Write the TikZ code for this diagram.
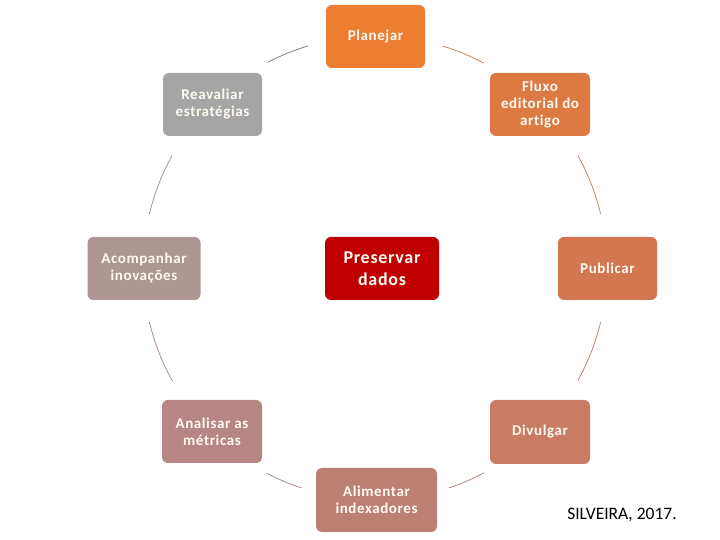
\documentclass[tikz,border=0pt]{standalone}
\usepackage{fontspec}
\setmainfont{Carlito}[Ligatures=NoCommon]
\newfontfamily\boxfont{Carlito}[Ligatures=NoCommon, LetterSpace=4]
\definecolor{cPlan}{HTML}{ED7D31}
\definecolor{cFlux}{HTML}{DD7A44}
\definecolor{cPubl}{HTML}{D47650}
\definecolor{cDivu}{HTML}{C87C65}
\definecolor{cAlim}{HTML}{BE7F73}
\definecolor{cAnal}{HTML}{B68682}
\definecolor{cAcom}{HTML}{AD9694}
\definecolor{cReav}{HTML}{A5A5A5}
\definecolor{cPres}{HTML}{C00000}
\definecolor{cText}{HTML}{FFFAF2}
\begin{document}
\begin{tikzpicture}[x=1pt,y=1pt,
  box/.style={rounded corners=6pt, inner sep=0pt, align=center, text=cText,
    font=\boxfont\fontsize{15}{17}\selectfont\bfseries, minimum height=63pt},
  arcline/.style={line width=0.7pt}]
\useasboundingbox (0,0) rectangle (720,540);
\coordinate (C) at (375,272);
\node[box, fill=cPlan, minimum width=99pt] (plan) at (375.5,503.5) {Planejar};
\node[box, fill=cFlux, minimum width=100pt] (flux) at (540,435.5) {Fluxo\\editorial do\\artigo};
\node[box, fill=cPubl, minimum width=99pt] (publ) at (607.5,271.5) {Publicar};
\node[box, fill=cDivu, minimum width=100pt, minimum height=64pt] (divu) at (540,108) {Divulgar};
\node[box, fill=cAlim, minimum width=121pt, minimum height=64pt] (alim) at (376.5,40) {Alimentar\\indexadores};
\node[box, fill=cAnal, minimum width=100pt] (anal) at (212,108.5) {Analisar as\\métricas};
\node[box, fill=cAcom, minimum width=113pt] (acom) at (144,271.5) {Acompanhar\\inovações};
\node[box, fill=cReav, minimum width=99pt] (reav) at (212.5,435.5) {Reavaliar\\estratégias};
\node[box, fill=cPres, minimum width=114pt, font=\boxfont\fontsize{18}{22}\selectfont\bfseries] (pres) at (382,271.5) {Preservar\\dados};
\node[font=\fontsize{17.5}{20}\selectfont, text=black, inner sep=0pt] (cite) at (622,25) {SILVEIRA, 2017.};
% connecting arcs
\draw[arcline, color=cPlan!55!gray] ([shift={(73:232)}]C) arc[start angle=73, end angle=62, radius=232];
\draw[arcline, color=cFlux!55!gray] ([shift={(29:232)}]C) arc[start angle=29, end angle=13.5, radius=232];
\draw[arcline, color=cPubl!55!gray] ([shift={(-13.5:232)}]C) arc[start angle=-13.5, end angle=-29, radius=232];
\draw[arcline, color=cDivu!55!gray] ([shift={(-62:232)}]C) arc[start angle=-62, end angle=-71.5, radius=232];
\draw[arcline, color=cAlim!55!gray] ([shift={(-108.5:232)}]C) arc[start angle=-108.5, end angle=-117.8, radius=232];
\draw[arcline, color=cAnal!55!gray] ([shift={(209.2:232)}]C) arc[start angle=209.2, end angle=193.5, radius=232];
\draw[arcline, color=cAcom!55!gray] ([shift={(166.5:232)}]C) arc[start angle=166.5, end angle=151, radius=232];
\draw[arcline, color=cReav!70!black] ([shift={(117.6:232)}]C) arc[start angle=117.6, end angle=106.8, radius=232];
\end{tikzpicture}
\end{document}
